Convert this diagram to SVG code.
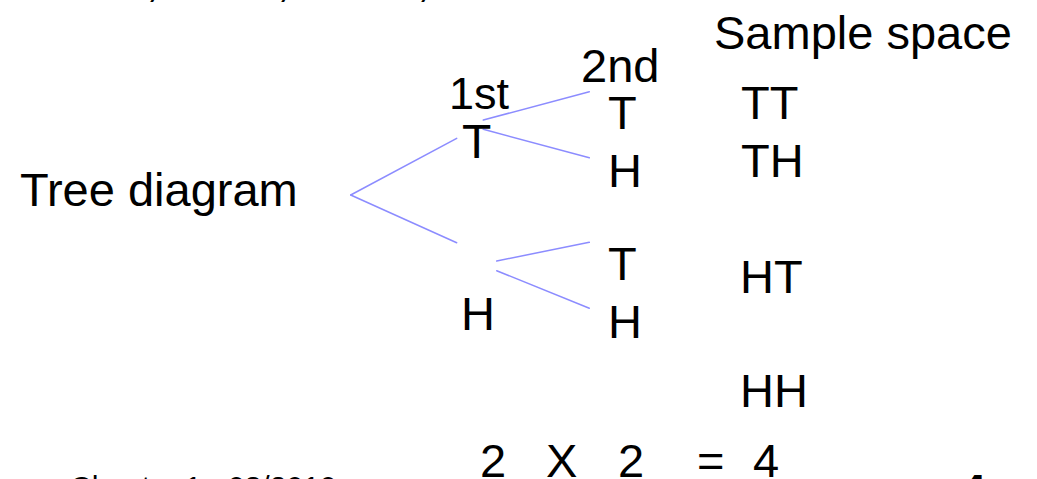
<svg xmlns="http://www.w3.org/2000/svg" width="1037" height="479" viewBox="0 0 1037 479">
<style>
text{font-family:"Liberation Sans",Arial,sans-serif;fill:#000;font-size:47px}
.sm{font-size:30px}
.br{stroke:#8c8cff;stroke-width:1.5;fill:none;stroke-linecap:round}
</style>
<rect width="1037" height="479" fill="#fff"/>
<g id="top-fragments">
<text x="146" y="-4">,</text>
<text x="277" y="-4">,</text>
<text x="417" y="-4">,</text>
</g>
<g id="connectors">
<line class="br" x1="350.7" y1="195" x2="456.7" y2="138.3"/>
<line class="br" x1="350.7" y1="195" x2="456.7" y2="242.7"/>
<line class="br" x1="483.3" y1="120" x2="589.3" y2="91.7"/>
<line class="br" x1="483.3" y1="129.3" x2="589.3" y2="157.7"/>
<line class="br" x1="496.7" y1="261" x2="589.3" y2="242.3"/>
<line class="br" x1="496.7" y1="270.7" x2="589.3" y2="308.3"/>
</g>
<g id="label-tree"><text x="20" y="206">Tree diagram</text></g>
<g id="label-1st"><text x="449" y="109" style="font-size:45px">1st</text></g>
<g id="node-T1"><text x="462" y="158" style="font-size:48px">T</text></g>
<g id="node-H1"><text x="461" y="330">H</text></g>
<g id="label-2nd"><text x="581" y="82">2nd</text></g>
<g id="node-TT"><text x="608" y="129">T</text></g>
<g id="node-TH"><text x="608" y="187">H</text></g>
<g id="node-HT"><text x="608" y="280">T</text></g>
<g id="node-HH"><text x="608" y="338">H</text></g>
<g id="sample-space">
<text x="714" y="49">Sample space</text>
<text x="741" y="119">TT</text>
<text x="741" y="177">TH</text>
<text x="740" y="293">HT</text>
<text x="740" y="407">HH</text>
</g>
<g id="equation">
<text x="480" y="477">2</text>
<text x="546" y="477">X</text>
<text x="618" y="477">2</text>
<text x="697" y="477">=</text>
<text x="753" y="477">4</text>
</g>
<g id="footer">
<text class="sm" x="70" y="497">Chapter 1</text>
<text class="sm" x="228" y="497">03/2010</text>
<text x="960" y="507" style="font-weight:bold">4</text>
</g>
</svg>
